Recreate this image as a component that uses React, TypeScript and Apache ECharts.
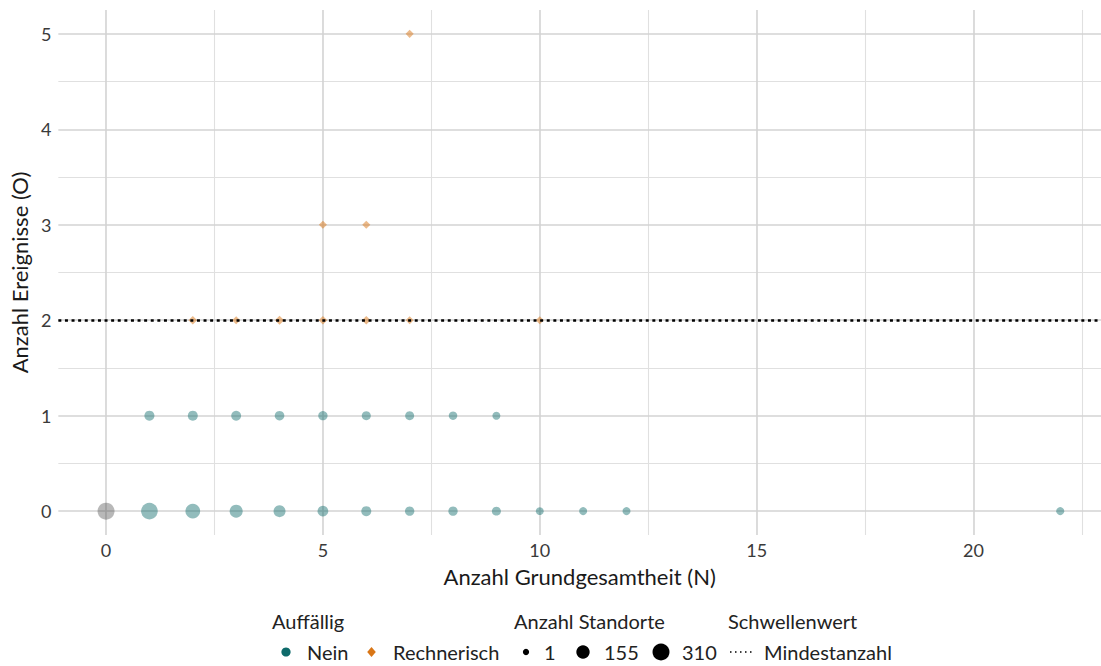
import React, { useEffect, useRef } from "react";
import * as echarts from "echarts";

// ---- data ----
const neinN = [1, 2, 3, 4, 5, 6, 7, 8, 9, 10, 11, 12, 22, 1, 2, 3, 4, 5, 6, 7, 8, 9];
const neinO = [0, 0, 0, 0, 0, 0, 0, 0, 0, 0, 0, 0, 0, 1, 1, 1, 1, 1, 1, 1, 1, 1];
const neinCount = [285, 184, 112, 78, 43, 29, 17, 17, 13, 3, 4, 4, 4, 30, 28, 27, 22, 18, 14, 13, 8, 4];

const naN = [0];
const naO = [0];
const naCount = [310];

const rechN = [2, 3, 4, 5, 6, 7, 10, 5, 6, 7];
const rechO = [2, 2, 2, 2, 2, 2, 2, 3, 3, 5];
const rechCount = [2, 1, 4, 2, 2, 1, 1, 1, 1, 1];

const threshold = 2;
const xTickLabels = [0, 5, 10, 15, 20];
const yTickLabels = [0, 1, 2, 3, 4, 5];
const xMajorGrid = [0, 5, 10, 15, 20];
const xMinorGrid = [2.5, 7.5, 12.5, 17.5, 22.5];
const yMajorGrid = [0, 1, 2, 3, 4, 5];
const yMinorGrid = [0.5, 1.5, 2.5, 3.5, 4.5];
const sizeLegend = [1, 155, 310];

const FONT = "Lato, 'Open Sans', sans-serif";
const TEAL = "#0e6a6a";
const ORANGE = "#d97616";

const sizeOf = (v: number) => 7 + 10 * Math.sqrt(Math.max(0, v - 1) / 309);

const zip = (xs: number[], ys: number[], cs: number[]) => xs.map((x, i) => [x, ys[i], cs[i]]);

export default function App() {
  const ref = useRef<HTMLDivElement>(null);
  useEffect(() => {
    if (!ref.current) return;
    const chart = echarts.init(ref.current, undefined, { renderer: "svg" });

    const majorStyle = { color: "#d3d3d3", width: 1.6, type: "solid" as const };
    const minorStyle = { color: "#e0e0e0", width: 1.1, type: "solid" as const };

    const legendY1 = 621;
    const legendY2 = 652;
    const textStyle = (text: string, x: number, y: number) => ({
      type: "text",
      x,
      y,
      silent: true,
      style: {
        text,
        fill: "#222",
        fontSize: 20,
        fontFamily: FONT,
        align: "left",
        verticalAlign: "middle",
      },
    });

    const sizeR = sizeLegend.map((v) => sizeOf(v) / 2);

    chart.setOption({
      animation: false,
      grid: { left: 58, right: 0, top: 10, bottom: 131, containLabel: false },
      xAxis: {
        type: "value",
        min: -1.1,
        max: 22.94,
        axisLine: { show: false },
        axisTick: { show: false },
        splitLine: { show: false },
        axisLabel: {
          customValues: xTickLabels,
          margin: 6,
          fontSize: 18,
          fontFamily: FONT,
          color: "#3a3a3a",
        },
        name: "Anzahl Grundgesamtheit (N)",
        nameLocation: "middle",
        nameGap: 30,
        nameTextStyle: { fontSize: 22, fontFamily: FONT, color: "#1a1a1a" },
      },
      yAxis: {
        type: "value",
        min: -0.25,
        max: 5.25,
        axisLine: { show: false },
        axisTick: { show: false },
        splitLine: { show: false },
        axisLabel: {
          customValues: yTickLabels,
          margin: 7,
          fontSize: 18,
          fontFamily: FONT,
          color: "#3a3a3a",
        },
        name: "Anzahl Ereignisse (O)",
        nameLocation: "middle",
        nameGap: 24,
        nameTextStyle: { fontSize: 22, fontFamily: FONT, color: "#1a1a1a" },
      },
      series: [
        {
          type: "scatter",
          name: "grid",
          data: [],
          z: 1,
          silent: true,
          markLine: {
            silent: true,
            symbol: "none",
            label: { show: false },
            z: 1,
            data: [
              ...xMinorGrid.map((v) => ({ xAxis: v, lineStyle: minorStyle })),
              ...yMinorGrid.map((v) => ({ yAxis: v, lineStyle: minorStyle })),
              ...xMajorGrid.map((v) => ({ xAxis: v, lineStyle: majorStyle })),
              ...yMajorGrid.map((v) => ({ yAxis: v, lineStyle: majorStyle })),
            ],
          },
        },
        {
          type: "scatter",
          name: "NA",
          z: 3,
          data: zip(naN, naO, naCount),
          symbol: "circle",
          symbolSize: (val: number[]) => sizeOf(val[2]),
          itemStyle: { color: "rgba(77,77,77,0.5)" },
        },
        {
          type: "scatter",
          name: "Nein",
          z: 3,
          data: zip(neinN, neinO, neinCount),
          symbol: "circle",
          symbolSize: (val: number[]) => sizeOf(val[2]),
          itemStyle: { color: TEAL, opacity: 0.45 },
        },
        {
          type: "scatter",
          name: "Rechnerisch",
          z: 4,
          data: zip(rechN, rechO, rechCount),
          symbol: "diamond",
          symbolSize: (val: number[]) => sizeOf(val[2]) * 1.15,
          itemStyle: { color: ORANGE, opacity: 0.5 },
          markLine: {
            silent: true,
            symbol: "none",
            label: { show: false },
            z: 5,
            data: [{ yAxis: threshold }],
            lineStyle: { color: "#000", width: 2.5, type: [3, 3.6] },
          },
        },
      ],
      graphic: [
        textStyle("Auffällig", 272, legendY1),
        { type: "circle", silent: true, shape: { cx: 286, cy: legendY2, r: 4.6 }, style: { fill: TEAL } },
        textStyle("Nein", 307, legendY2),
        {
          type: "polygon",
          silent: true,
          shape: {
            points: [
              [371.5, legendY2 - 5],
              [375.8, legendY2],
              [371.5, legendY2 + 5],
              [367.2, legendY2],
            ],
          },
          style: { fill: ORANGE },
        },
        textStyle("Rechnerisch", 393, legendY2),
        textStyle("Anzahl Standorte", 514, legendY1),
        { type: "circle", silent: true, shape: { cx: 526, cy: legendY2, r: sizeR[0] * 0.9 }, style: { fill: "#000" } },
        textStyle(String(sizeLegend[0]), 544, legendY2),
        { type: "circle", silent: true, shape: { cx: 583, cy: legendY2, r: sizeR[1] * 0.95 }, style: { fill: "#000" } },
        textStyle(String(sizeLegend[1]), 604, legendY2),
        { type: "circle", silent: true, shape: { cx: 661, cy: legendY2, r: sizeR[2] }, style: { fill: "#000" } },
        textStyle(String(sizeLegend[2]), 682, legendY2),
        textStyle("Schwellenwert", 728, legendY1),
        {
          type: "line",
          silent: true,
          shape: { x1: 730, y1: legendY2, x2: 755, y2: legendY2 },
          style: { stroke: "#000", lineWidth: 1.5, lineDash: [1.5, 3.5] },
        },
        textStyle("Mindestanzahl", 764, legendY2),
      ],
    });
    return () => chart.dispose();
  }, []);
  return (
    <div
      ref={ref}
      style={{ position: "fixed", left: 0, top: 0, width: 1101, height: 666, background: "#fff" }}
    />
  );
}
